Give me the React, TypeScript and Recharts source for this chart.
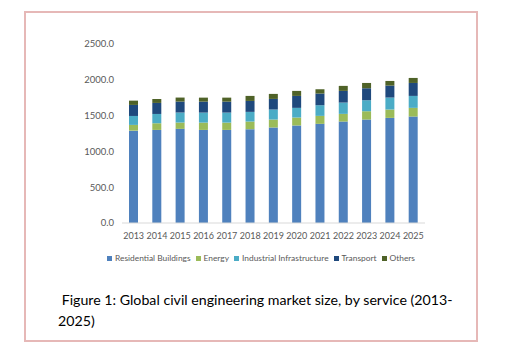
import { BarChart, Bar, XAxis, YAxis, Legend } from 'recharts';

const years = ['2013', '2014', '2015', '2016', '2017', '2018', '2019', '2020', '2021', '2022', '2023', '2024', '2025'];
const residential = [1290, 1300, 1315, 1300, 1300, 1310, 1334, 1362, 1385, 1417, 1445, 1468, 1487];
const energy = [80, 93, 88, 102, 102, 107, 111, 111, 111, 107, 116, 117, 121];
const industrial = [125, 130, 140, 140, 140, 135, 140, 135, 149, 158, 154, 167, 167];
const transport = [154, 154, 153, 153, 153, 153, 148, 167, 163, 163, 167, 167, 181];
const others = [60, 55, 56, 56, 56, 70, 70, 70, 60, 70, 74, 65, 70];
const yTicks = [0, 500, 1000, 1500, 2000, 2500];

const series = [
  { key: 'Residential Buildings', values: residential, color: '#4f81bd' },
  { key: 'Energy', values: energy, color: '#9bbb59' },
  { key: 'Industrial Infrastructure', values: industrial, color: '#4bacc6' },
  { key: 'Transport', values: transport, color: '#1f497d' },
  { key: 'Others', values: others, color: '#4f6228' },
];

const data = years.map((y, i) => {
  const row: Record<string, string | number> = { year: y };
  series.forEach((s) => { row[s.key] = s.values[i]; });
  return row;
});

const font = 'Lato, sans-serif';

function LegendBox() {
  return (
    <div style={{ display: 'flex', gap: 5, fontFamily: font, fontSize: 8.4, color: '#595959', whiteSpace: 'nowrap' }}>
      {series.map((s) => (
        <span key={s.key} style={{ display: 'flex', alignItems: 'center' }}>
          <span style={{ width: 5, height: 5, background: s.color, marginRight: 3, display: 'inline-block' }} />
          {s.key}
        </span>
      ))}
    </div>
  );
}

export default function App() {
  return (
    <div style={{ position: 'fixed', left: 0, top: 0, width: 516, height: 354, background: '#fff' }}>
      <div style={{ position: 'absolute', left: 24, top: 11, width: 450, height: 327, border: '2px solid #e6b8b7' }} />
      <div style={{ position: 'absolute', left: 0, top: 0 }}>
        <BarChart width={516} height={354} data={data} margin={{ top: 44, right: 91, left: 77, bottom: 101 }} barSize={9}>
          <XAxis dataKey="year" tickLine={false} axisLine={{ stroke: '#d9d9d9' }} interval={0}
            tick={{ fontSize: 9, fill: '#595959', fontFamily: font }} tickMargin={4} />
          <YAxis width={45} domain={[0, 2500]} ticks={yTicks} axisLine={false} tickLine={false}
            tickFormatter={(v: number) => v.toFixed(1)} tick={{ fontSize: 9.5, fill: '#595959', fontFamily: font }} />
          {series.map((s) => (
            <Bar key={s.key} dataKey={s.key} stackId="a" fill={s.color} isAnimationActive={false} />
          ))}
          <Legend layout="horizontal" verticalAlign="middle" align="center" content={<LegendBox />}
            wrapperStyle={{ top: 253, left: 107, width: 330 }} />
        </BarChart>
      </div>
      <div style={{ position: 'absolute', left: 58, top: 289, fontFamily: font, fontSize: 14.2, lineHeight: '21px', color: '#000', whiteSpace: 'nowrap' }}>
        &nbsp;Figure 1: Global civil engineering market size, by service (2013-<br />2025)
      </div>
    </div>
  );
}
